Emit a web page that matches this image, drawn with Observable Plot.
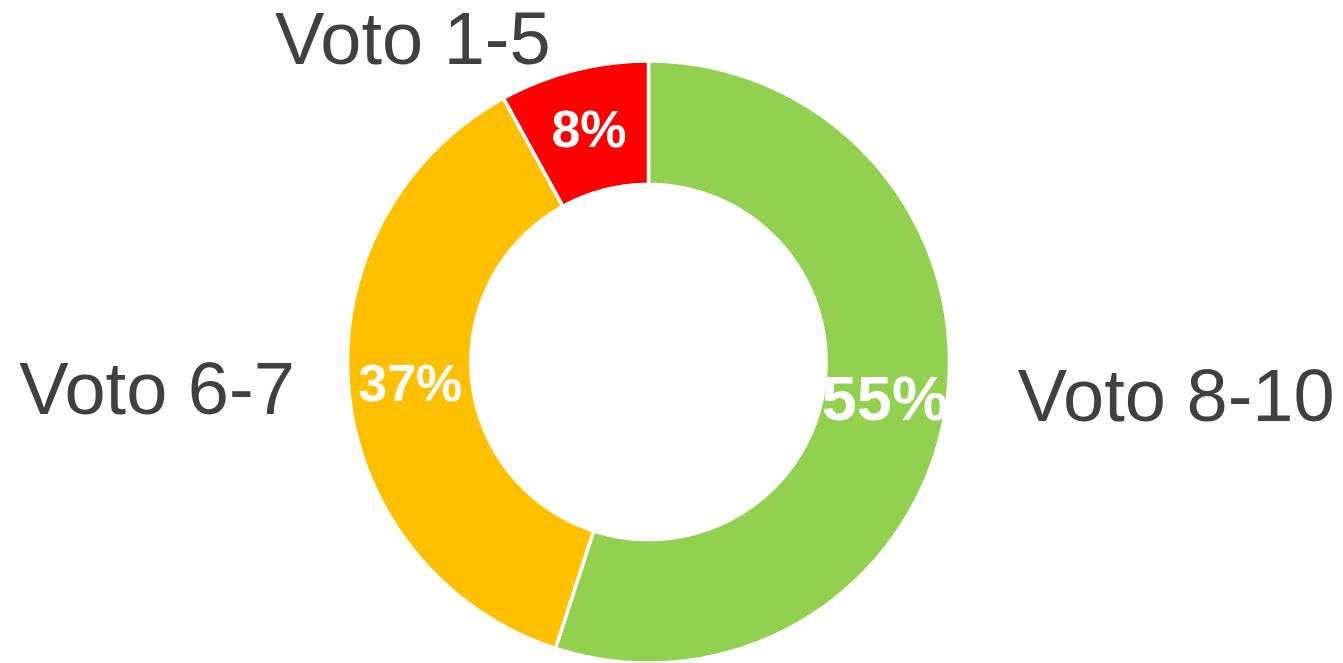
<!DOCTYPE html>
<html>
<head>
<meta charset="utf-8">
<script src="https://cdn.jsdelivr.net/npm/d3@7"></script>
<script src="https://cdn.jsdelivr.net/npm/@observablehq/plot@0.6"></script>
<style>
  html, body { margin: 0; padding: 0; background: #ffffff; }
  #chart svg { display: block; }
</style>
</head>
<body>
<div id="chart"></div>
<script>
// ---- data ----
const categories = ["Voto 8-10", "Voto 6-7", "Voto 1-5"];
const shares = [55, 37, 8];
const percentLabels = ["55%", "37%", "8%"];
const sliceColors = ["#92D050", "#FFC000", "#FF0000"];

// ---- layout ----
const W = 1343, H = 663;
const cx = 648, cy = 361.5, R = 301;   // pixel centre and outer radius
const inner = 0.59;                    // inner radius as a fraction of R

const total = d3.sum(shares);
let acc = 0;
const slices = categories.map((c, i) => {
  const a0 = acc / total * 2 * Math.PI;
  acc += shares[i];
  const a1 = acc / total * 2 * Math.PI;
  return {cat: c, value: shares[i], label: percentLabels[i], a0, a1, mid: (a0 + a1) / 2};
});

// polygon points (unit coordinates, angle clockwise from 12 o'clock)
const pts = [];
for (const s of slices) {
  const n = Math.max(8, Math.ceil((s.a1 - s.a0) / 0.01));
  for (let k = 0; k <= n; k++) {
    const a = s.a0 + (s.a1 - s.a0) * k / n;
    pts.push({cat: s.cat, x: Math.sin(a), y: Math.cos(a)});
  }
  for (let k = n; k >= 0; k--) {
    const a = s.a0 + (s.a1 - s.a0) * k / n;
    pts.push({cat: s.cat, x: inner * Math.sin(a), y: inner * Math.cos(a)});
  }
}

// percent labels at the middle of the ring
const midR = (1 + inner) / 2;
const pctData = slices.map(s => ({
  x: midR * Math.sin(s.mid), y: midR * Math.cos(s.mid),
  label: s.label, size: s.value > 50 ? 63 : 52
}));

// category labels: anchored on the outer edge, pushed outward
const pushes = {"Voto 8-10": [72, -12, "start"], "Voto 6-7": [-54, 0, "end"], "Voto 1-5": [-23, -30, "end"]};
const catData = slices.map(s => {
  const [dx, dy, anchor] = pushes[s.cat];
  return {
    x: Math.sin(s.mid) + dx / R,
    y: Math.cos(s.mid) - dy / R,
    label: s.cat, anchor
  };
});

const font = "'Liberation Sans', Arial, Helvetica, sans-serif";

const chart = Plot.plot({
  width: W, height: H,
  margin: 0,
  x: {domain: [-cx / R, (W - cx) / R], range: [0, W], axis: null},
  y: {domain: [-(H - cy) / R, cy / R], range: [H, 0], axis: null},
  color: {domain: categories, range: sliceColors},
  style: {fontFamily: font, background: "#ffffff"},
  marks: [
    Plot.line(pts, {x: "x", y: "y", z: "cat", fill: "cat", stroke: "#ffffff",
      strokeWidth: 3.5, curve: "linear-closed", strokeLinejoin: "miter"}),
    Plot.text(pctData, {x: "x", y: "y", text: "label", fontSize: "size",
      fill: "#ffffff", fontWeight: "bold", fontFamily: font}),
    Plot.text(catData.filter(d => d.anchor === "start"), {x: "x", y: "y", text: "label",
      fontSize: 74, fill: "#404040", textAnchor: "start", fontFamily: font}),
    Plot.text(catData.filter(d => d.anchor === "end"), {x: "x", y: "y", text: "label",
      fontSize: 74, fill: "#404040", textAnchor: "end", fontFamily: font})
  ]
});
document.getElementById("chart").appendChild(chart);
</script>
</body>
</html>
